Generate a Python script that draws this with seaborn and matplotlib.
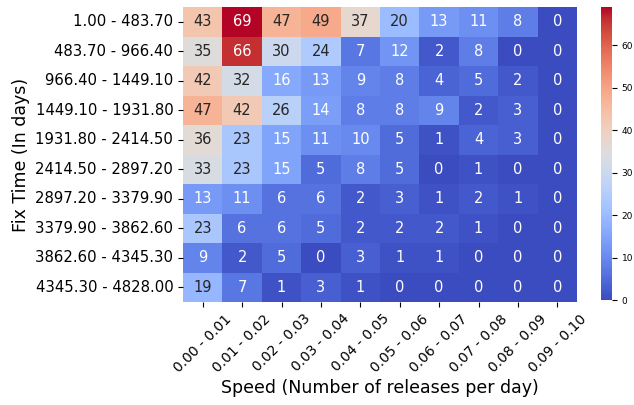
import numpy as np
import pandas as pd
import seaborn as sns
import matplotlib
matplotlib.use("Agg")
import matplotlib.pyplot as plt

fix_time_bins = ["1.00 - 483.70", "483.70 - 966.40", "966.40 - 1449.10",
                 "1449.10 - 1931.80", "1931.80 - 2414.50", "2414.50 - 2897.20",
                 "2897.20 - 3379.90", "3379.90 - 3862.60", "3862.60 - 4345.30",
                 "4345.30 - 4828.00"]
speed_bins = ["0.00 - 0.01", "0.01 - 0.02", "0.02 - 0.03", "0.03 - 0.04",
              "0.04 - 0.05", "0.05 - 0.06", "0.06 - 0.07", "0.07 - 0.08",
              "0.08 - 0.09", "0.09 - 0.10"]

counts = [
    [43, 69, 47, 49, 37, 20, 13, 11, 8, 0],
    [35, 66, 30, 24, 7, 12, 2, 8, 0, 0],
    [42, 32, 16, 13, 9, 8, 4, 5, 2, 0],
    [47, 42, 26, 14, 8, 8, 9, 2, 3, 0],
    [36, 23, 15, 11, 10, 5, 1, 4, 3, 0],
    [33, 23, 15, 5, 8, 5, 0, 1, 0, 0],
    [13, 11, 6, 6, 2, 3, 1, 2, 1, 0],
    [23, 6, 6, 5, 2, 2, 2, 1, 0, 0],
    [9, 2, 5, 0, 3, 1, 1, 0, 0, 0],
    [19, 7, 1, 3, 1, 0, 0, 0, 0, 0],
]

df = pd.DataFrame(counts, index=fix_time_bins, columns=speed_bins)

fig = plt.figure(figsize=(6.34, 4.05), dpi=100)
ax = fig.add_axes([183 / 634, 1 - 302 / 405, 394 / 634, 295 / 405])
cax = fig.add_axes([601 / 634, 1 - 300 / 405, 11 / 634, 293 / 405])

sns.heatmap(df, annot=True, fmt="d", cmap="coolwarm", ax=ax, cbar_ax=cax,
            annot_kws={"fontsize": 10.5})

ax.set_xlabel("Speed (Number of releases per day)", fontsize=12.5, labelpad=3)
ax.set_ylabel("Fix Time (In days)", fontsize=12.5)
ax.tick_params(axis="x", labelsize=10)
ax.tick_params(axis="y", labelsize=10.7)
plt.setp(ax.get_xticklabels(), rotation=45, ha="center")
plt.setp(ax.get_yticklabels(), rotation=0)
cax.tick_params(labelsize=6.5)

fig.savefig("out.png", dpi=100)
